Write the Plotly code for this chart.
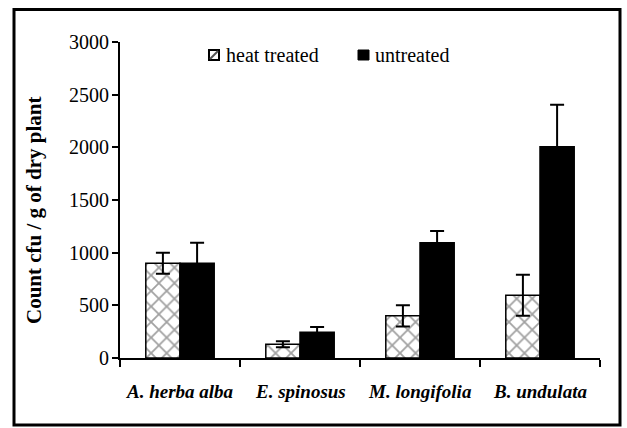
import plotly.graph_objects as go

categories = ["A. herba alba", "E. spinosus", "M. longifolia", "B. undulata"]
heat_treated = [900, 130, 400, 595]
heat_treated_err = [100, 28, 100, 195]
untreated = [900, 245, 1095, 2005]
untreated_err = [195, 50, 110, 400]
y_ticks = [0, 500, 1000, 1500, 2000, 2500, 3000]
y_title = "Count cfu / g of dry plant"
series_names = ["heat treated", "untreated"]

FONT = "Liberation Serif, Noto Serif, DejaVu Serif"
W, H = 627, 428
L, R, T, B = 120, 27, 42, 70
PW, PH = W - L - R, H - T - B


def px_x(p):
    return (p - L) / PW


def px_y(p):
    return (H - B - p) / PH


fig = go.Figure()
fig.add_trace(go.Bar(
    name=series_names[0], x=categories, y=heat_treated,
    error_y=dict(type="data", array=heat_treated_err, color="black", thickness=2, width=7),
    marker=dict(color="white", line=dict(color="black", width=1.5),
                pattern=dict(shape="x", fgcolor="#444444", bgcolor="white", size=11, solidity=0.3)),
))
fig.add_trace(go.Bar(
    name=series_names[1], x=categories, y=untreated,
    error_y=dict(type="data", array=untreated_err, color="black", thickness=2, width=7),
    marker=dict(color="black", line=dict(color="black", width=1.5)),
))

fig.update_layout(
    width=W, height=H,
    margin=dict(l=L, r=R, t=T, b=B, autoexpand=False),
    paper_bgcolor="white", plot_bgcolor="white",
    barmode="group", bargap=0.43, bargroupgap=0,
    font=dict(family=FONT, size=20, color="black"),
    showlegend=False,
    xaxis=dict(showline=True, linecolor="black", linewidth=1.5, ticks="outside",
               tickson="boundaries", ticklen=7, tickwidth=1.5, tickcolor="black",
               showticklabels=False, automargin=False, showgrid=False, zeroline=False),
    yaxis=dict(range=[0, 3000], tickvals=y_ticks, showline=True, linecolor="black", linewidth=1.5,
               ticks="outside", ticklen=6, tickwidth=1.5, tickcolor="black", automargin=False,
               showticklabels=False, showgrid=False, zeroline=False),
)

# y tick labels
for v in y_ticks:
    fig.add_annotation(x=0, xref="paper", y=v, yref="y", text=str(v), showarrow=False,
                       xanchor="right", yanchor="middle", xshift=-9,
                       font=dict(family=FONT, size=20, color="black"))

# x category labels (bold italic)
for c in categories:
    fig.add_annotation(x=c, xref="x", y=px_y(391), yref="paper", text=c, showarrow=False,
                       xanchor="center", yanchor="middle",
                       font=dict(family=FONT, size=19, color="black", weight="bold", style="italic"))

# y axis title
fig.add_annotation(x=px_x(34), xref="paper", y=px_y(210), yref="paper", text=y_title,
                   showarrow=False, textangle=-90, xanchor="center", yanchor="middle",
                   font=dict(family=FONT, size=21, color="black", weight="bold"))

# legend
fig.add_shape(type="rect", xref="paper", yref="paper",
              x0=px_x(209), x1=px_x(219), y0=px_y(60), y1=px_y(50),
              line=dict(color="black", width=2), fillcolor="white")
fig.add_shape(type="line", xref="paper", yref="paper",
              x0=px_x(210), x1=px_x(218), y0=px_y(59), y1=px_y(51),
              line=dict(color="#555555", width=2))
fig.add_annotation(x=px_x(224), xref="paper", y=px_y(55), yref="paper", text=series_names[0],
                   showarrow=False, xanchor="left", yanchor="middle",
                   font=dict(family=FONT, size=20, color="black"))
fig.add_shape(type="rect", xref="paper", yref="paper",
              x0=px_x(358), x1=px_x(369), y0=px_y(60), y1=px_y(50),
              line=dict(color="black", width=1), fillcolor="black")
fig.add_annotation(x=px_x(373), xref="paper", y=px_y(55), yref="paper", text=series_names[1],
                   showarrow=False, xanchor="left", yanchor="middle",
                   font=dict(family=FONT, size=20, color="black"))

# outer frame
fig.add_shape(type="rect", xref="paper", yref="paper",
              x0=px_x(14), x1=px_x(620), y0=px_y(425), y1=px_y(9.5),
              line=dict(color="black", width=3), fillcolor="rgba(0,0,0,0)", layer="above")

fig.write_html("out.html", config={"displayModeBar": False},
               post_script="document.body.style.margin='0';")
